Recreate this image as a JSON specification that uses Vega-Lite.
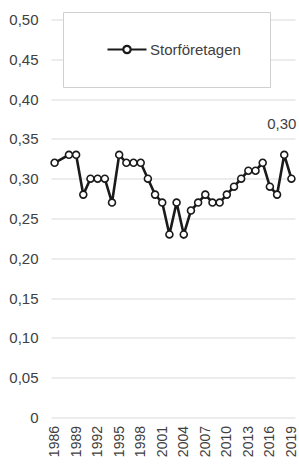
{
  "$schema": "https://vega.github.io/schema/vega-lite/v6.json",
  "width": 244,
  "height": 398,
  "autosize": "none",
  "padding": {"left": 51, "top": 19.5, "right": 4, "bottom": 47.5},
  "background": "white",
  "config": {
    "view": {"stroke": null},
    "font": "Liberation Sans",
    "locale": {"number": {"decimal": ",", "thousands": " ", "grouping": [3], "currency": ["", " kr"]}}
  },
  "data": {
    "values": [
      {"year": 1986, "value": 0.32, "series": "Storföretagen"},
      {"year": 1988, "value": 0.33, "series": "Storföretagen"},
      {"year": 1989, "value": 0.33, "series": "Storföretagen"},
      {"year": 1990, "value": 0.28, "series": "Storföretagen"},
      {"year": 1991, "value": 0.30, "series": "Storföretagen"},
      {"year": 1992, "value": 0.30, "series": "Storföretagen"},
      {"year": 1993, "value": 0.30, "series": "Storföretagen"},
      {"year": 1994, "value": 0.27, "series": "Storföretagen"},
      {"year": 1995, "value": 0.33, "series": "Storföretagen"},
      {"year": 1996, "value": 0.32, "series": "Storföretagen"},
      {"year": 1997, "value": 0.32, "series": "Storföretagen"},
      {"year": 1998, "value": 0.32, "series": "Storföretagen"},
      {"year": 1999, "value": 0.30, "series": "Storföretagen"},
      {"year": 2000, "value": 0.28, "series": "Storföretagen"},
      {"year": 2001, "value": 0.27, "series": "Storföretagen"},
      {"year": 2002, "value": 0.23, "series": "Storföretagen"},
      {"year": 2003, "value": 0.27, "series": "Storföretagen"},
      {"year": 2004, "value": 0.23, "series": "Storföretagen"},
      {"year": 2005, "value": 0.26, "series": "Storföretagen"},
      {"year": 2006, "value": 0.27, "series": "Storföretagen"},
      {"year": 2007, "value": 0.28, "series": "Storföretagen"},
      {"year": 2008, "value": 0.27, "series": "Storföretagen"},
      {"year": 2009, "value": 0.27, "series": "Storföretagen"},
      {"year": 2010, "value": 0.28, "series": "Storföretagen"},
      {"year": 2011, "value": 0.29, "series": "Storföretagen"},
      {"year": 2012, "value": 0.30, "series": "Storföretagen"},
      {"year": 2013, "value": 0.31, "series": "Storföretagen"},
      {"year": 2014, "value": 0.31, "series": "Storföretagen"},
      {"year": 2015, "value": 0.32, "series": "Storföretagen"},
      {"year": 2016, "value": 0.29, "series": "Storföretagen"},
      {"year": 2017, "value": 0.28, "series": "Storföretagen"},
      {"year": 2018, "value": 0.33, "series": "Storföretagen"},
      {"year": 2019, "value": 0.30, "series": "Storföretagen"}
    ]
  },
  "encoding": {
    "x": {
      "field": "year",
      "type": "ordinal",
      "scale": {
        "type": "point",
        "padding": 0.5,
        "domain": [1986, 1987, 1988, 1989, 1990, 1991, 1992, 1993, 1994, 1995, 1996, 1997, 1998, 1999, 2000, 2001, 2002, 2003, 2004, 2005, 2006, 2007, 2008, 2009, 2010, 2011, 2012, 2013, 2014, 2015, 2016, 2017, 2018, 2019]
      },
      "axis": {
        "values": [1986, 1989, 1992, 1995, 1998, 2001, 2004, 2007, 2010, 2013, 2016, 2019],
        "labelAngle": -90,
        "title": null,
        "domain": false,
        "ticks": false,
        "grid": false,
        "labelPadding": 8,
        "labelFontSize": 14,
        "labelColor": "#404040",
        "labelFont": "Liberation Sans"
      }
    },
    "y": {
      "field": "value",
      "type": "quantitative",
      "scale": {"domain": [0, 0.5], "nice": false},
      "axis": {
        "values": [0, 0.05, 0.1, 0.15, 0.2, 0.25, 0.3, 0.35, 0.4, 0.45, 0.5],
        "format": ".2f",
        "labelExpr": "datum.value == 0 ? '0' : datum.label",
        "title": null,
        "domain": false,
        "ticks": false,
        "gridColor": "#d9d9d9",
        "gridWidth": 1,
        "labelPadding": 13,
        "labelFontSize": 15,
        "labelColor": "#404040",
        "labelFont": "Liberation Sans"
      }
    }
  },
  "layer": [
    {
      "mark": {"type": "line", "strokeWidth": 2.6},
      "encoding": {
        "color": {
          "field": "series",
          "type": "nominal",
          "scale": {"range": ["#1a1a1a"]},
          "legend": {
            "orient": "none",
            "legendX": 12,
            "legendY": -7.5,
            "padding": 28.5,
            "fillColor": "white",
            "strokeColor": "#d0d0d0",
            "title": null,
            "labelFontSize": 15,
            "labelColor": "#404040",
            "labelFont": "Liberation Sans",
            "labelOffset": 14,
            "symbolOffset": 26.5,
            "symbolSize": 225,
            "symbolType": "M-2.6,0L-0.49,0M0.49,0L2.6,0M-0.49,0A0.49,0.49,0,1,1,0.49,0A0.49,0.49,0,1,1,-0.49,0Z",
            "encode": {
              "symbols": {
                "update": {
                  "fill": {"value": "white"},
                  "stroke": {"value": "#1a1a1a"},
                  "strokeWidth": {"value": 2.2},
                  "shape": {"value": "M-2.6,0L-0.49,0M0.49,0L2.6,0M-0.49,0A0.49,0.49,0,1,1,0.49,0A0.49,0.49,0,1,1,-0.49,0Z"},
                  "size": {"value": 225},
                  "opacity": {"value": 1}
                }
              }
            }
          }
        }
      }
    },
    {
      "mark": {"type": "point", "shape": "circle", "filled": true, "fill": "white", "stroke": "#1a1a1a", "strokeWidth": 1.6, "size": 48, "opacity": 1}
    },
    {
      "transform": [{"filter": "datum.year == 2019"}],
      "mark": {"type": "text", "align": "right", "dx": 5, "dy": -55, "fontSize": 15, "color": "#404040", "font": "Liberation Sans"},
      "encoding": {"text": {"field": "value", "type": "quantitative", "format": ".2f"}}
    }
  ]
}
